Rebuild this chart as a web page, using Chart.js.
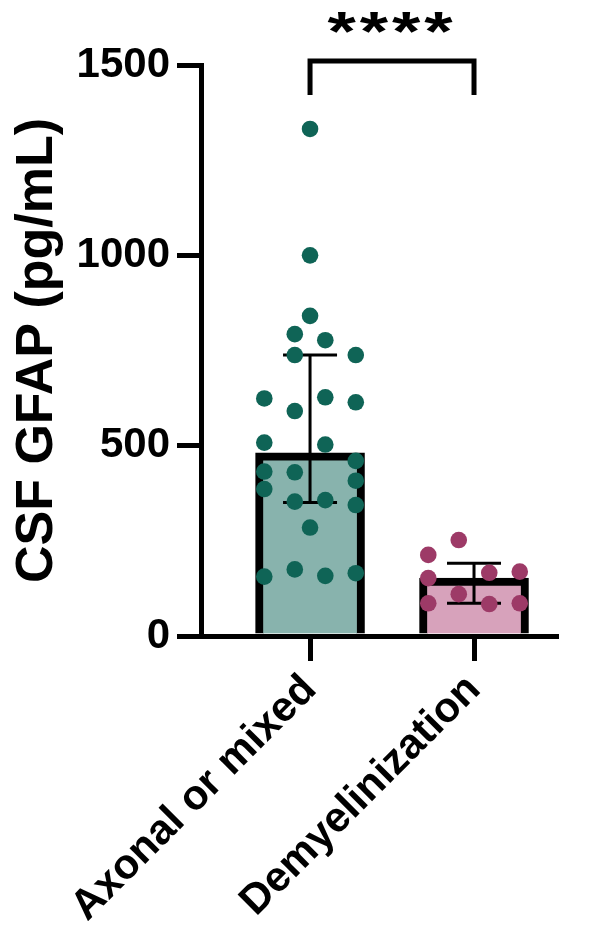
<!DOCTYPE html>
<html>
<head>
<meta charset="utf-8">
<script src="https://cdn.jsdelivr.net/npm/chart.js@4.4.1/dist/chart.umd.min.js"></script>
<style>
  html, body { margin: 0; padding: 0; background: #fff; }
  #wrap { width: 597px; height: 943px; }
</style>
</head>
<body>
<div id="wrap"><canvas id="gfap"></canvas></div>
<script>
// groups on the x axis
const groups = ['Axonal or mixed', 'Demyelinization'];

// individual CSF GFAP values (pg/mL)
const axonalValues = [1332, 1000, 841, 793, 777, 738, 738, 624, 627, 614, 591, 508, 503,
  460, 432, 430, 408, 386, 353, 357, 344, 285, 175, 156, 158, 165];
// column slot of each dot in the scatter (-3 .. 3)
const axonalSlots = [0, 0, 0, -1, 1, -1, 3, -3, 1, 3, -1, -3, 1,
  3, -3, -1, 3, -3, -1, 1, 3, 0, -1, -3, 1, 3];

const demyelValues = [252, 213, 152, 166, 169, 110, 86, 84, 86];
const demyelSlots = [-1, -3, -3, 1, 3, -1, -3, 1, 3];

const yTicks = [0, 500, 1000, 1500];
const significance = '****';

const font = '"Liberation Sans", Arial, sans-serif';
const greenDot = '#0f6456';
const greenFill = '#88b3ad';
const pinkDot = '#9d3a67';
const pinkFill = '#d7a2bb';

// Prism-style percentile (n+1 method)
function percentile(values, p) {
  const s = [...values].sort((a, b) => a - b);
  const pos = p * (s.length + 1) - 1;
  const lo = Math.max(0, Math.min(s.length - 1, Math.floor(pos)));
  const hi = Math.min(s.length - 1, lo + 1);
  return s[lo] + (s[hi] - s[lo]) * (pos - lo);
}

const allValues = [axonalValues, demyelValues];
const medians = allValues.map(v => percentile(v, 0.5));
const q1s = allValues.map(v => percentile(v, 0.25));
const q3s = allValues.map(v => percentile(v, 0.75));

const slotStep = 0.093;
const toPoints = (values, slots, gi) => values.map((v, i) => ({ x: gi + slots[i] * slotStep, y: v }));

const errorBars = {
  id: 'errorBars',
  afterDatasetDraw(chart, args) {
    if (args.index !== 0) return;
    const { ctx, scales: { x, y } } = chart;
    ctx.save();
    ctx.strokeStyle = '#000';
    ctx.lineWidth = 3;
    groups.forEach((g, i) => {
      const px = x.getPixelForValue(i);
      const top = y.getPixelForValue(q3s[i]);
      const bot = y.getPixelForValue(q1s[i]);
      ctx.beginPath();
      ctx.moveTo(px, top); ctx.lineTo(px, bot);
      ctx.moveTo(px - 27, top); ctx.lineTo(px + 27, top);
      ctx.moveTo(px - 27, bot); ctx.lineTo(px + 27, bot);
      ctx.stroke();
    });
    ctx.restore();
  }
};

const sigBracket = {
  id: 'sigBracket',
  afterDraw(chart) {
    const { ctx, chartArea, scales: { x } } = chart;
    const x0 = x.getPixelForValue(0);
    const x1 = x.getPixelForValue(1);
    const top = chartArea.top - 4;
    const leg = chartArea.top + 30;
    ctx.save();
    ctx.strokeStyle = '#000';
    ctx.lineWidth = 5;
    ctx.lineCap = 'butt';
    ctx.lineJoin = 'miter';
    ctx.beginPath();
    ctx.moveTo(x0, leg); ctx.lineTo(x0, top); ctx.lineTo(x1, top); ctx.lineTo(x1, leg);
    ctx.stroke();
    // stars, a bit wider than the plain glyphs
    ctx.fillStyle = '#000';
    ctx.font = `bold 56px ${font}`;
    ctx.letterSpacing = '3px';
    ctx.textAlign = 'center';
    ctx.textBaseline = 'alphabetic';
    ctx.translate((x0 + x1) / 2, top - 11);
    ctx.scale(1.3, 1);
    ctx.fillText(significance, 0, 0);
    ctx.restore();
  }
};

new Chart(document.getElementById('gfap'), {
  type: 'bar',
  data: {
    datasets: [
      {
        type: 'bar',
        data: medians.map((m, i) => ({ x: i, y: m })),
        backgroundColor: [greenFill, pinkFill],
        borderColor: '#000',
        borderWidth: 8,
        barThickness: 109,
        order: 2
      },
      {
        type: 'scatter',
        data: toPoints(axonalValues, axonalSlots, 0),
        backgroundColor: greenDot,
        borderWidth: 0,
        pointRadius: 8.3,
        order: 1
      },
      {
        type: 'scatter',
        data: toPoints(demyelValues, demyelSlots, 1),
        backgroundColor: pinkDot,
        borderWidth: 0,
        pointRadius: 8.3,
        order: 1
      }
    ]
  },
  options: {
    responsive: true,
    maintainAspectRatio: false,
    animation: false,
    layout: { padding: { top: 65, right: 41, left: 0, bottom: 0 } },
    plugins: { legend: { display: false }, tooltip: { enabled: false } },
    scales: {
      x: {
        type: 'linear',
        min: -0.665,
        max: 1.5,
        offset: false,
        afterBuildTicks: (scale) => { scale.ticks = groups.map((g, i) => ({ value: i })); },
        afterFit: (scale) => { scale.height = 307; },
        grid: { offset: false, drawOnChartArea: false, color: '#000', lineWidth: 5, tickLength: 25 },
        border: { display: true, color: '#000', width: 5 },
        ticks: {
          autoSkip: false,
          minRotation: 45,
          maxRotation: 45,
          padding: 4,
          color: '#000',
          font: { family: font, size: 42, weight: 'bold' },
          callback: (v) => groups[v] ?? ''
        }
      },
      y: {
        min: 0,
        max: 1500,
        afterBuildTicks: (scale) => { scale.ticks = yTicks.map(v => ({ value: v })); },
        afterFit: (scale) => { scale.width = 201; },
        grid: { drawOnChartArea: false, color: '#000', lineWidth: 5, tickLength: 24 },
        border: { display: true, color: '#000', width: 5 },
        ticks: {
          padding: 7,
          color: '#000',
          font: { family: font, size: 42, weight: 'bold' },
          callback: (v) => String(v)
        },
        title: {
          display: true,
          text: 'CSF GFAP (pg/mL)',
          color: '#000',
          font: { family: font, size: 52, weight: 'bold' },
          padding: { top: 6, bottom: 0 }
        }
      }
    }
  },
  plugins: [errorBars, sigBracket]
});
</script>
</body>
</html>
